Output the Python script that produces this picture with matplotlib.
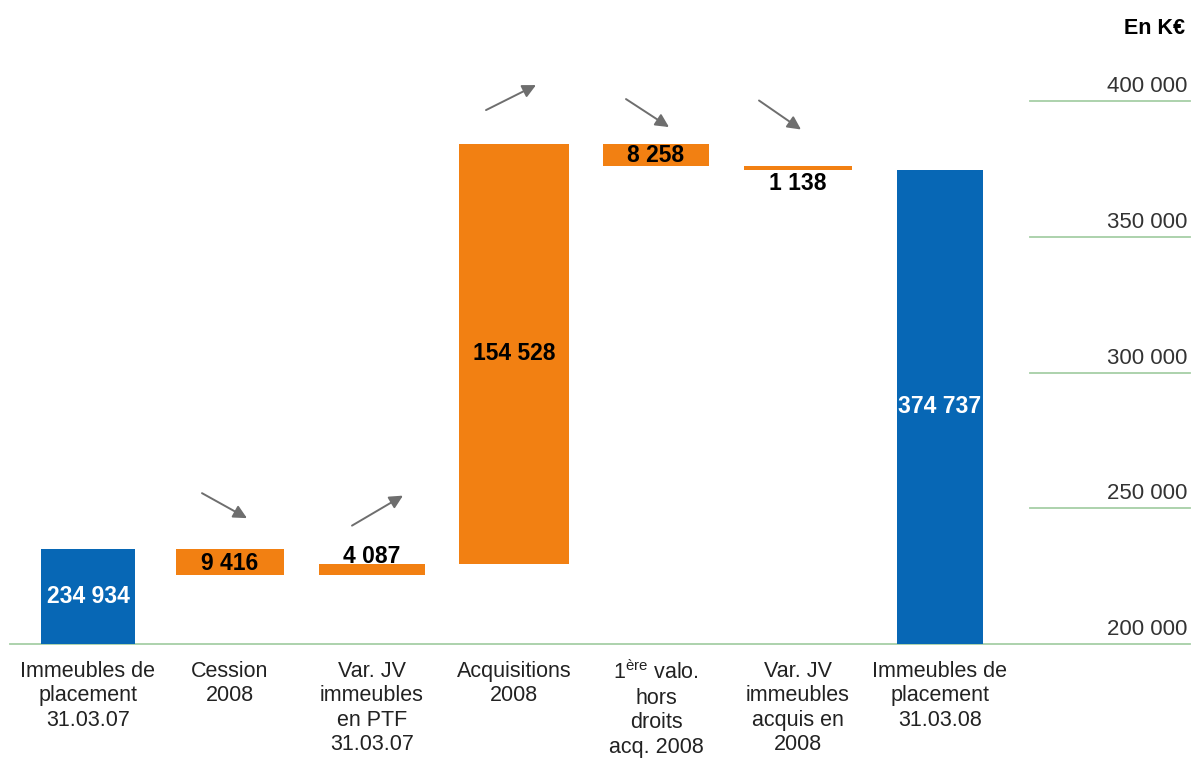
import matplotlib.pyplot as plt

plt.rcParams['font.family'] = ['Liberation Sans', 'DejaVu Sans']
plt.rcParams['mathtext.fontset'] = 'custom'
plt.rcParams['mathtext.rm'] = 'Liberation Sans'

categories = [
    "Immeubles de\nplacement\n31.03.07",
    "Cession\n2008",
    "Var. JV\nimmeubles\nen PTF\n31.03.07",
    "Acquisitions\n2008",
    "1$^{\\mathrm{ère}}$ valo.\nhors\ndroits\nacq. 2008",
    "Var. JV\nimmeubles\nacquis en\n2008",
    "Immeubles de\nplacement\n31.03.08",
]
start_value = 234934
changes = [-9416, 4087, 154528, -8258, -1138]
end_value = 374737
y_ticks = [200000, 250000, 300000, 350000, 400000]

BLUE = '#0767B5'
ORANGE = '#F28012'
GRID = '#A6CFA6'
ARROW = '#6E6E6E'
floor = 200000


def fmt(v):
    return f"{abs(v):,}".replace(",", " ")


fig = plt.figure(figsize=(11.92, 7.62), dpi=100)
W, H = 1192, 762
ax_l, ax_r, ax_t, ax_b = 10, 1190, 40, 644
ax = fig.add_axes([ax_l / W, 1 - ax_b / H, (ax_r - ax_l) / W, (ax_b - ax_t) / H])

# x: category 0 sits at pixel 88, one category every 142 px
x0_px, step_px = 88, 142
xmin = (ax_l - x0_px) / step_px
xmax = (ax_r - x0_px) / step_px
px_per_k = 2.715
ymax = floor + (ax_b - ax_t) / px_per_k * 1000
ax.set_xlim(xmin, xmax)
ax.set_ylim(floor, ymax)
dx = 1 / step_px          # data units per pixel, x
dy = 1000 / px_per_k      # data units per pixel, y

bar_widths = [0.66, 0.76, 0.74, 0.77, 0.74, 0.76, 0.6]
# waterfall segments
bottoms, tops, colors = [], [], []
bottoms.append(floor); tops.append(start_value); colors.append(BLUE)
run = start_value
for c in changes:
    new = run + c
    bottoms.append(min(run, new)); tops.append(max(run, new)); colors.append(ORANGE)
    run = new
bottoms.append(floor); tops.append(end_value); colors.append(BLUE)

xs = list(range(len(categories)))
heights = [t - b for t, b in zip(tops, bottoms)]
ax.bar(xs, heights, bottom=bottoms, width=bar_widths, color=colors,
       edgecolor='none', zorder=2)

# value labels
values = [start_value] + changes + [end_value]
label_shift = [0, -2, 13, 0, 0, -15, 0]   # pixels, for the thin bars
for i, v in enumerate(values):
    yc = (bottoms[i] + tops[i]) / 2 + label_shift[i] * dy
    col = 'white' if colors[i] == BLUE else 'black'
    ax.text(xs[i], yc, fmt(v), ha='center', va='center', fontsize=16.5,
            fontweight='bold', color=col, zorder=3)

# trend arrows above the movement bars: (tail dx, tail dy, head dx, head dy) in px from bar top
arrow_px = {
    1: (-28, 56, 17, 31),
    2: (-20, 38, 31, 68),
    3: (-28, 34, 22, 59),
    4: (-30, 45, 13, 17),
    5: (-39, 66, 3, 37),
}
for i, (tx, ty, hx, hy) in arrow_px.items():
    top = tops[i]
    ax.annotate('', xy=(xs[i] + hx * dx, top + hy * dy),
                xytext=(xs[i] + tx * dx, top + ty * dy),
                arrowprops=dict(arrowstyle='-|>,head_length=0.8,head_width=0.4',
                                color=ARROW, lw=1.4, shrinkA=0, shrinkB=0))

# gridlines only on the right-hand scale, baseline across the whole chart
grid_start = (1030 - x0_px) / step_px
for t in y_ticks:
    x_from = xmin if t == floor else grid_start
    ax.plot([x_from, xmax], [t, t], color=GRID, lw=1.3, zorder=1, clip_on=False)
    ax.text(xmax - 3 * dx, t + 4 * dy, fmt(t), ha='right', va='bottom',
            fontsize=16, color='#333333')

ax.set_xticks(xs)
ax.set_xticklabels(categories, fontsize=15.5, color='#222222', linespacing=1.22)
ax.tick_params(axis='x', length=0, pad=12)
ax.set_yticks([])
for s in ax.spines.values():
    s.set_visible(False)

fig.text(1185 / W, 1 - 28 / H, "En K€", ha='right', va='center',
         fontsize=15.5, fontweight='bold', color='black')

fig.savefig('out.png', dpi=100)
